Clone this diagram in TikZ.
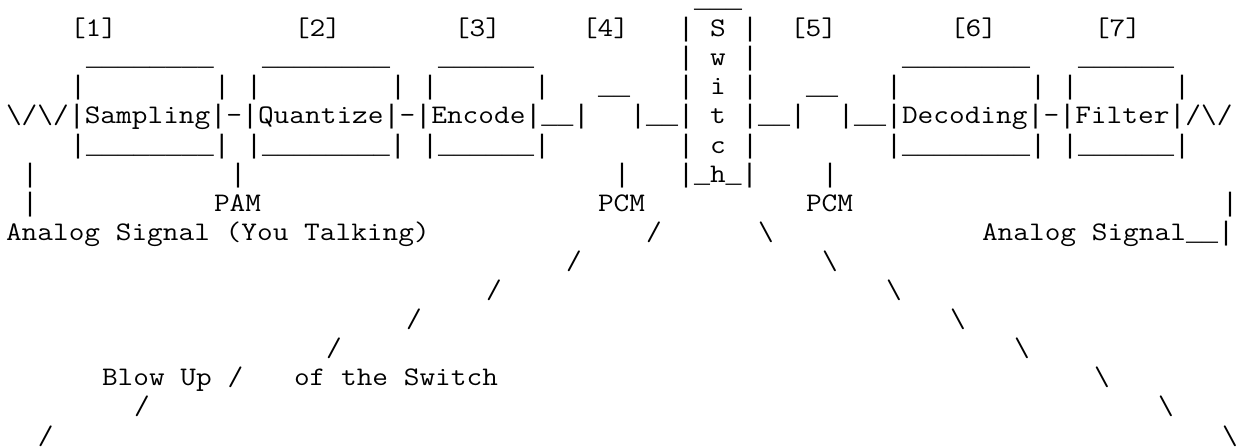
\documentclass[tikz,border=0pt]{standalone}
\usepackage{fontspec}
\newfontfamily\txtfont{Latin Modern Mono}[FakeStretch=1.1372]
\newfontfamily\linefont{Liberation Mono}
\tikzset{asc/.style={anchor=base west, inner sep=0pt, outer sep=0pt, font=\txtfont\fontsize{13.4pt}{14.6pt}\selectfont\frenchspacing}}
% column c, row r -> position of the character cell (cell width 8pt, line 14.55pt)
\newcommand\Tx[4]{\node[asc] (#1) at ({3pt+8pt*#2},{-3.8pt-14.55pt*#3}) {#4};}
\newcommand\bs{\textbackslash}
\newcommand\B{{\linefont\fontsize{13.333pt}{14.6pt}\selectfont|}}
\newcommand\U{{\linefont\fontsize{13.333pt}{14.6pt}\selectfont\_}}
\begin{document}
\begin{tikzpicture}
\useasboundingbox (0,0) rectangle (621pt,-224pt);
% row 0
\Tx{swtop}{43}{0}{\U\U\U}
% row 1
\Tx{n1}{4}{1}{[1]}
\Tx{n2}{18}{1}{[2]}
\Tx{n3}{28}{1}{[3]}
\Tx{n4}{36}{1}{[4]}
\Tx{swlA}{42}{1}{\B}
\Tx{swS}{44}{1}{S}
\Tx{swrA}{46}{1}{\B}
\Tx{n5}{49}{1}{[5]}
\Tx{n6}{59}{1}{[6]}
\Tx{n7}{68}{1}{[7]}
% row 2
\Tx{samptop}{5}{2}{\U\U\U\U\U\U\U\U}
\Tx{quanttop}{16}{2}{\U\U\U\U\U\U\U\U}
\Tx{enctop}{27}{2}{\U\U\U\U\U\U}
\Tx{swlB}{42}{2}{\B}
\Tx{swW}{44}{2}{w}
\Tx{swrB}{46}{2}{\B}
\Tx{dectop}{56}{2}{\U\U\U\U\U\U\U\U}
\Tx{filttop}{67}{2}{\U\U\U\U\U\U}
% row 3
\Tx{a3}{4}{3}{\B}
\Tx{b3}{13}{3}{\B}
\Tx{c3}{15}{3}{\B}
\Tx{d3}{24}{3}{\B}
\Tx{e3}{26}{3}{\B}
\Tx{f3}{33}{3}{\B}
\Tx{pulseL}{37}{3}{\U\U}
\Tx{swlC}{42}{3}{\B}
\Tx{swI}{44}{3}{i}
\Tx{swrC}{46}{3}{\B}
\Tx{pulseR}{50}{3}{\U\U}
\Tx{g3}{55}{3}{\B}
\Tx{h3}{64}{3}{\B}
\Tx{i3}{66}{3}{\B}
\Tx{j3}{73}{3}{\B}
% row 4
\Tx{chainL}{0}{4}{\bs/\bs/\B Sampling\B-\B Quantize\B-\B Encode\B\U\U\B}
\Tx{pulseLb}{39}{4}{\B\U\U\B}
\Tx{swT}{44}{4}{t}
\Tx{pulseRa}{46}{4}{\B\U\U\B}
\Tx{chainR}{52}{4}{\B\U\U\B Decoding\B-\B Filter\B/\bs/}
% row 5
\Tx{sampbot}{4}{5}{\B\U\U\U\U\U\U\U\U\B}
\Tx{quantbot}{15}{5}{\B\U\U\U\U\U\U\U\U\B}
\Tx{encbot}{26}{5}{\B\U\U\U\U\U\U\B}
\Tx{swlD}{42}{5}{\B}
\Tx{swC}{44}{5}{c}
\Tx{swrD}{46}{5}{\B}
\Tx{decbot}{55}{5}{\B\U\U\U\U\U\U\U\U\B}
\Tx{filtbot}{66}{5}{\B\U\U\U\U\U\U\B}
% row 6
\Tx{inA}{1}{6}{\B}
\Tx{pamA}{14}{6}{\B}
\Tx{pcmLA}{38}{6}{\B}
\Tx{swbot}{42}{6}{\B\U h\U\B}
\Tx{pcmRA}{51}{6}{\B}
% row 7
\Tx{inB}{1}{7}{\B}
\Tx{pam}{13}{7}{PAM}
\Tx{pcmL}{37}{7}{PCM}
\Tx{pcmR}{50}{7}{PCM}
\Tx{outA}{76}{7}{\B}
% row 8
\Tx{analogin}{0}{8}{Analog Signal (You Talking)}
\Tx{l8}{40}{8}{/}
\Tx{r8}{47}{8}{\bs}
\Tx{analogout}{61}{8}{Analog Signal\U\U\B}
% rows 9-15
\Tx{l9}{35}{9}{/}
\Tx{r9}{51}{9}{\bs}
\Tx{l10}{30}{10}{/}
\Tx{r10}{55}{10}{\bs}
\Tx{l11}{25}{11}{/}
\Tx{r11}{59}{11}{\bs}
\Tx{l12}{20}{12}{/}
\Tx{r12}{63}{12}{\bs}
\Tx{blow}{6}{13}{Blow Up /}
\Tx{ofsw}{18}{13}{of the Switch}
\Tx{r13}{68}{13}{\bs}
\Tx{l14}{8}{14}{/}
\Tx{r14}{72}{14}{\bs}
\Tx{l15}{2}{15}{/}
\Tx{r15}{76}{15}{\bs}
\end{tikzpicture}
\end{document}
